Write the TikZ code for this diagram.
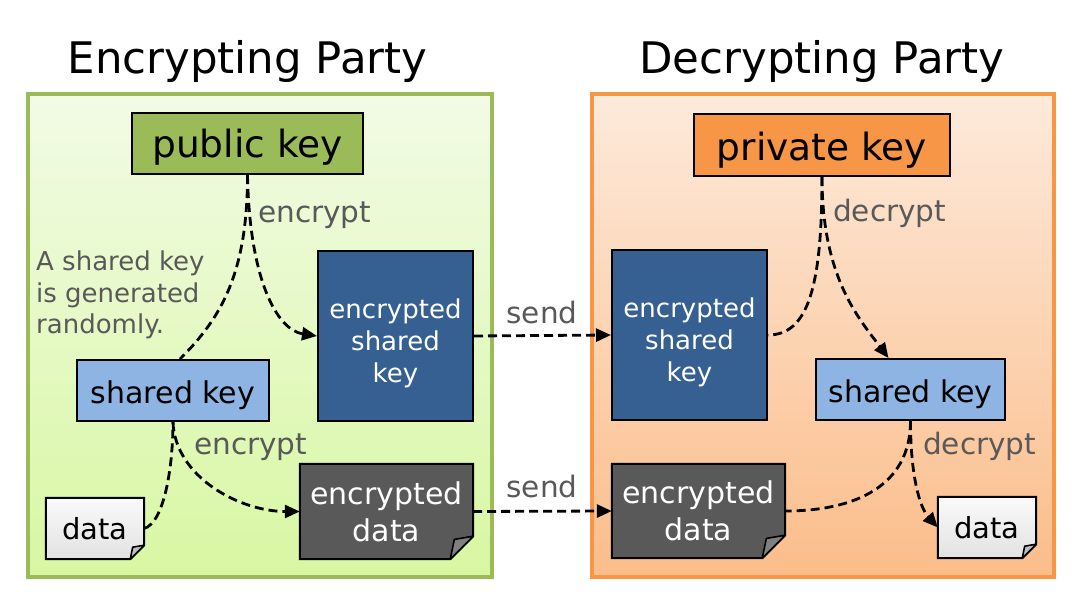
\documentclass[tikz,border=0pt]{standalone}
\usepackage{fontspec}
\setmainfont{DejaVu Sans}
\usetikzlibrary{arrows.meta}
\definecolor{pgreen}{HTML}{9BBB59}
\definecolor{porange}{HTML}{F79646}
\definecolor{dblue}{HTML}{366092}
\definecolor{lblue}{HTML}{8DB4E2}
\definecolor{dgray}{HTML}{595959}
\definecolor{lblgray}{HTML}{595959}
\definecolor{gtop}{HTML}{F2FBE6}
\definecolor{gbot}{HTML}{D8F7A2}
\definecolor{otop}{HTML}{FDEADB}
\definecolor{obot}{HTML}{FBBD8A}
\definecolor{ptop}{HTML}{FAFAFA}
\definecolor{pbot}{HTML}{E2E2E2}
\newcommand{\txtdown}[2]{\raisebox{-#1}[\height][\depth]{#2}}
\newcommand{\stackc}[1]{\begin{tabular}{@{}c@{}}#1\end{tabular}}
\pgfdeclarelayer{back}
\pgfdeclarelayer{mid}
\pgfsetlayers{back,mid,main}
\tikzset{
  box/.style={draw=black, line width=2pt, inner sep=0pt, align=center},
  title/.style={font=\fontsize{43.5}{50}\selectfont, text=black, inner sep=0pt, anchor=base},
  lbl/.style={text=lblgray, inner sep=0pt, font=\fontsize{29.5}{34}\selectfont},
  conn/.style={line width=2.8pt, dash pattern=on 9pt off 5pt},
  arr/.style={conn, -{Triangle[length=15pt,width=13pt]}},
  doc/.style={inner sep=0pt, align=center},
}
\begin{document}
\begin{tikzpicture}[x=1pt,y=1pt]
\useasboundingbox (0,0) rectangle (1080,-608);

% panels
\begin{pgfonlayer}{back}
\fill[white] (0,0) rectangle (1080,-608);
\shade[top color=gtop, bottom color=gbot] (28,-94) rectangle (492,-577);
\draw[pgreen, line width=4pt] (28,-94) rectangle (492,-577);
\shade[top color=otop, bottom color=obot] (592,-94) rectangle (1054,-577);
\draw[porange, line width=4pt] (592,-94) rectangle (1054,-577);
\end{pgfonlayer}

% titles
\node[title] (t1) at (247.5,-73) {Encrypting Party};
\node[title] (t2) at (822,-73) {Decrypting Party};

% left boxes
\node[box, fill=pgreen, minimum width=231pt, minimum height=61pt, font=\fontsize{37.5}{44}\selectfont] (pub) at (247.5,-143.5) {\txtdown{4pt}{public key}};
\node[box, fill=dblue, text=white, minimum width=155pt, minimum height=170pt, font=\fontsize{26}{32}\selectfont] (eskL) at (395.5,-336) {\txtdown{8pt}{\stackc{encrypted\\shared\\key}}};
\node[box, fill=lblue, minimum width=192pt, minimum height=61pt, font=\fontsize{30}{36}\selectfont] (skL) at (173,-390.5) {\txtdown{4.5pt}{shared key}};
\node[doc, minimum width=98pt, minimum height=61pt, font=\fontsize{29}{36}\selectfont] (dataL) at (95,-528.5) {data};
\node[doc, text=white, minimum width=173pt, minimum height=95pt, font=\fontsize{30}{37}\selectfont] (edL) at (386.5,-511.5) {encrypted\\data};

% right boxes
\node[box, fill=porange, minimum width=256pt, minimum height=62pt, font=\fontsize{37.5}{44}\selectfont] (priv) at (822,-145) {\txtdown{5pt}{private key}};
\node[box, fill=dblue, text=white, minimum width=155pt, minimum height=170pt, font=\fontsize{26}{32}\selectfont] (eskR) at (689.5,-335) {\txtdown{8pt}{\stackc{encrypted\\shared\\key}}};
\node[box, fill=lblue, minimum width=189pt, minimum height=61pt, font=\fontsize{30}{36}\selectfont] (skR) at (910.5,-389.5) {\txtdown{4.5pt}{shared key}};
\node[doc, text=white, minimum width=173pt, minimum height=94pt, font=\fontsize{30}{37}\selectfont] (edR) at (698.5,-511) {encrypted\\data};
\node[doc, minimum width=98pt, minimum height=61pt, font=\fontsize{29}{36}\selectfont] (dataR) at (987,-527.5) {data};

% document shapes with folded corner
\begin{pgfonlayer}{mid}
\foreach \n/\f/\fc/\ft/\fb in {dataL/14/black!25/ptop/pbot, dataR/14/black!25/ptop/pbot, edL/23/black!50/dgray/dgray, edR/23/black!50/dgray/dgray}{
  \path[draw=black, line width=2pt, top color=\ft, bottom color=\fb]
    (\n.north west) -- (\n.north east) -- ([yshift=\f pt]\n.south east)
    -- ([xshift=-\f pt]\n.south east) -- (\n.south west) -- cycle;
  \path[draw=black, line width=1.6pt, fill=\fc, line join=round]
    ([yshift=\f pt]\n.south east) -- ([xshift=-0.82*\f pt, yshift=0.86*\f pt]\n.south east)
    -- ([xshift=-\f pt]\n.south east) -- cycle;
}
\end{pgfonlayer}

% labels
\node[lbl, anchor=base west] (enc1) at (258,-222) {encrypt};
\node[lbl, anchor=north west, align=left, font=\fontsize{26}{31.5}\selectfont] (gen) at (36,-251) {A shared key\\is generated\\randomly.};
\node[lbl, anchor=base west] (enc2) at (194,-454) {encrypt};
\node[lbl] (send1) at (542,-312) {send};
\node[lbl] (send2) at (542,-486) {send};
\node[lbl, anchor=base west] (dec1) at (833,-221) {decrypt};
\node[lbl, anchor=base west] (dec2) at (923,-454) {decrypt};

% connectors left
\coordinate (skLtop) at ([xshift=7pt]skL.north);
\draw[conn] (pub.south) .. controls +(0,-100) and +(40,40) .. (skLtop);
\draw[arr] (pub.south) .. controls +(2,-105) and +(-40,6) .. (eskL.west);
\draw[conn] (dataL.east) .. controls +(20,6) and +(0,-45) .. (skL.south);
\draw[arr] (skL.south) .. controls +(2,-55) and +(-60,0) .. (edL.west);
\draw[arr] (eskL.east) -- (eskR.west);
\draw[arr] (edL.east) -- (edR.west);

% connectors right
\coordinate (skRtop) at ([xshift=-22pt]skR.north);
\coordinate (skRbot) at (skR.south);
\draw[conn] (priv.south) .. controls +(0,-110) and +(40,0) .. (eskR.east);
\draw[arr] (priv.south) .. controls +(0,-100) and +(-30,40) .. (skRtop);
\draw[conn] (skRbot) .. controls +(0,-65) and +(70,0) .. (edR.east);
\draw[arr] (skRbot) .. controls +(0,-55) and +(-18,20) .. (dataR.west);
\end{tikzpicture}
\end{document}
